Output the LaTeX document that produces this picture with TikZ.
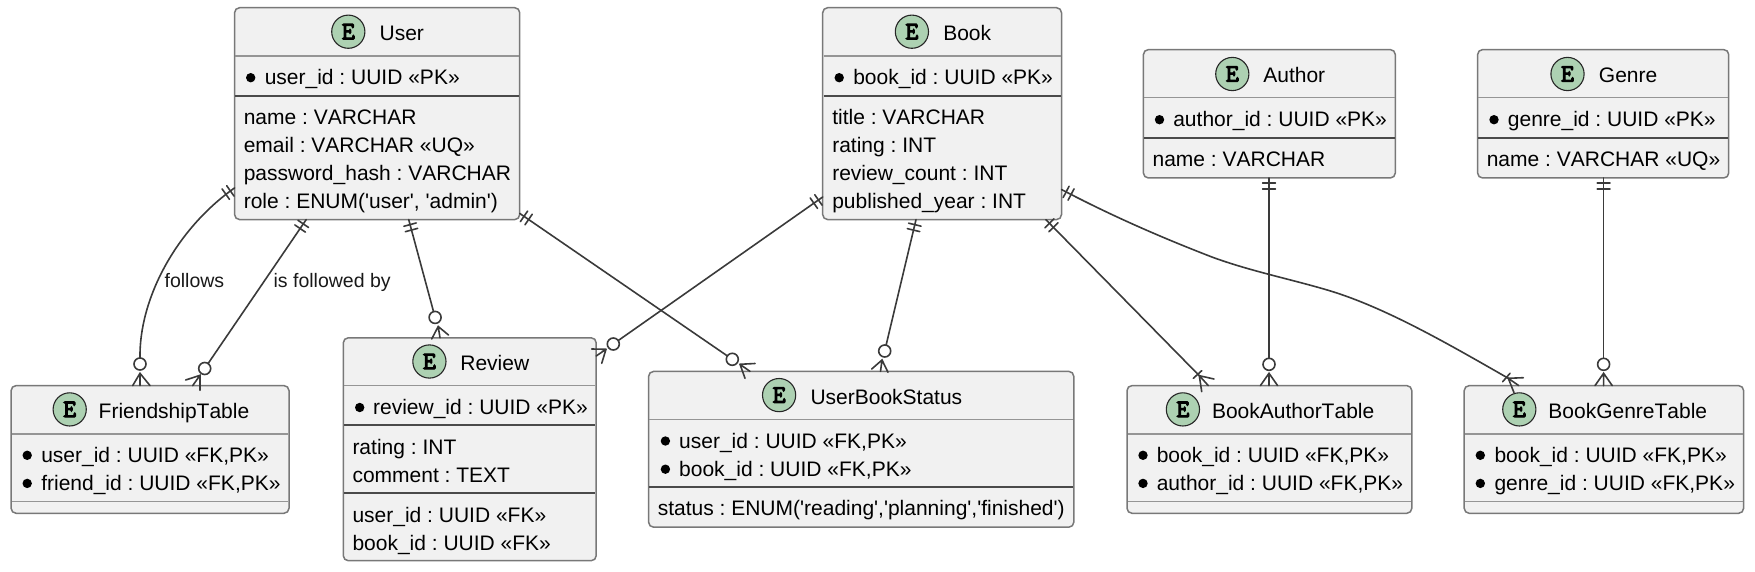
\documentclass[tikz,border=0pt]{standalone}
\usepackage{fontspec}
\setmainfont{Liberation Sans}[Ligatures=TeXOff,Kerning=Off]
\setmonofont{Latin Modern Mono}[FakeBold=4.5]
\usetikzlibrary{calc}
\definecolor{boxfill}{HTML}{F1F1F1}
\definecolor{boxline}{HTML}{787878}
\definecolor{hdrline}{HTML}{959595}
\definecolor{sepline}{HTML}{4A4A4A}
\definecolor{iconfill}{HTML}{ADD1B2}
\definecolor{connline}{HTML}{3A3A3A}
\tikzset{
  entbox/.style={draw=boxline,fill=boxfill,line width=0.75pt,rounded corners=2.5pt,anchor=north west,inner sep=0pt,outer sep=0pt},
  attr/.style={anchor=base west,inner sep=0pt,outer sep=0pt,font=\frenchspacing\fontsize{10.5}{12}\selectfont,text=black},
  lbl/.style={anchor=base west,inner sep=0pt,outer sep=0pt,font=\frenchspacing\fontsize{9.75}{12}\selectfont,text=black!90},
  bulletdot/.style={circle,fill=black,inner sep=0pt,minimum size=4.7pt},
  iconc/.style={circle,draw=black!85,fill=iconfill,line width=0.55pt,inner sep=0pt,minimum size=16.6pt,font=\ttfamily\fontsize{12.5}{12}\selectfont},
  hdr/.style={draw=hdrline,line width=0.7pt},
  sep/.style={draw=sepline,line width=1pt},
  conn/.style={draw=connline,line width=0.8pt,line cap=round},
  zero/.style={circle,draw=connline,fill=white,line width=0.8pt,inner sep=0pt,minimum size=6pt,outer sep=0pt},
}
% box name, x1, y1, x2, y2
\newcommand{\ent}[5]{\node[entbox,minimum width={(#4-#2)*0.5pt},minimum height={(#5-#3)*0.5pt}] (#1) at (#2,#3) {};}
\newcommand{\hdrln}[2]{\draw[hdr] ([xshift=.4pt]#1.west |- 0,#2) -- ([xshift=-.4pt]#1.east |- 0,#2);}
\newcommand{\sepln}[2]{\draw[sep] ([xshift=.4pt]#1.west |- 0,#2) -- ([xshift=-.4pt]#1.east |- 0,#2);}
% name x centre-y text
\newcommand{\txt}[4]{\node[attr] (#1) at (#2,#3+7) {#4};}
\newcommand{\ttl}[4]{\node[attr] (#1) at (#2,#3) {#4};}
\newcommand{\dotnode}[3]{\node[bulletdot] (#1) at (#2,#3) {};}
\newcommand{\ic}[3]{\node[iconc] (#1) at (#2,#3) {E};}
% double bar at #1 in the direction of #2
\newcommand{\bars}[2]{%
  \draw[conn] ($(#1)!2.6pt!(#2)!3.2pt!90:(#2)$) -- ($(#1)!2.6pt!(#2)!3.2pt!-90:(#2)$);
  \draw[conn] ($(#1)!5.4pt!(#2)!3.2pt!90:(#2)$) -- ($(#1)!5.4pt!(#2)!3.2pt!-90:(#2)$);}
% crow foot: tip, mid, foot a, foot b
\newcommand{\crow}[4]{\draw[conn] (#2) -- (#1) (#3) -- (#1) -- (#4);}
\begin{document}
\begin{tikzpicture}[x=0.5pt,y=-0.5pt]
\useasboundingbox (0,0) rectangle (1755,572);
% ---------- entities
\ent{User}{234.6}{7.7}{519.7}{219.6}
\hdrln{User}{56.2}\sepln{User}{95.6}
\ic{ui}{348.3}{31.7}\ttl{ut}{379.6}{41}{User}
\dotnode{ud}{250.7}{77.7}\txt{u0}{264.8}{77.7}{user\_id : UUID «PK»}
\txt{u1}{243.8}{117.5}{name : VARCHAR}
\txt{u2}{243.8}{145.5}{email : VARCHAR «UQ»}
\txt{u3}{243.8}{173.3}{password\_hash : VARCHAR}
\txt{u4}{243.8}{201.2}{role : ENUM('user', 'admin')}

\ent{Book}{822.7}{7.7}{1061.5}{219.6}
\hdrln{Book}{56.2}\sepln{Book}{95.6}
\ic{bi}{911.9}{31.7}\ttl{bt}{943.3}{41}{Book}
\dotnode{bd}{839.2}{77.7}\txt{b0}{853.3}{77.7}{book\_id : UUID «PK»}
\txt{b1}{832.3}{117.5}{title : VARCHAR}
\txt{b2}{832.3}{145.5}{rating : INT}
\txt{b3}{832.3}{173.3}{review\_count : INT}
\txt{b4}{832.3}{201.2}{published\_year : INT}

\ent{Author}{1143.4}{49.6}{1395.3}{178}
\hdrln{Author}{97.8}\sepln{Author}{137.9}
\ic{ai}{1232.3}{74}\ttl{at}{1263.3}{83}{Author}
\dotnode{ad}{1159.5}{119.7}\txt{a0}{1173.3}{119.7}{author\_id : UUID «PK»}
\txt{a1}{1152.6}{159.4}{name : VARCHAR}

\ent{Genre}{1477.6}{49.6}{1728.7}{178}
\hdrln{Genre}{97.8}\sepln{Genre}{137.9}
\ic{gi}{1567.5}{74}\ttl{gt}{1598.9}{83}{Genre}
\dotnode{gd}{1494}{119.7}\txt{g0}{1507.9}{119.7}{genre\_id : UUID «PK»}
\txt{g1}{1486.8}{159.4}{name : VARCHAR «UQ»}

\ent{Friend}{11.1}{385.6}{289}{513.3}
\hdrln{Friend}{433.8}\hdrln{Friend}{501.3}
\ic{fi}{69.7}{409.4}\ttl{ft}{98.7}{418.7}{FriendshipTable}
\dotnode{fd0}{27.2}{455.3}\txt{f0}{41.3}{455.3}{user\_id : UUID «FK,PK»}
\dotnode{fd1}{27.2}{483.4}\txt{f1}{41.3}{483.4}{friend\_id : UUID «FK,PK»}

\ent{Review}{343.3}{337.8}{596.2}{560.7}
\hdrln{Review}{385.3}\sepln{Review}{425.4}\sepln{Review}{493.2}
\ic{ri}{429.4}{361.5}\ttl{rt}{460.4}{370.5}{Review}
\dotnode{rd}{359.7}{407.5}\txt{r0}{373.1}{407.5}{review\_id : UUID «PK»}
\txt{r1}{352.5}{447.6}{rating : INT}
\txt{r2}{352.5}{475.4}{comment : TEXT}
\txt{r3}{352.5}{515}{user\_id : UUID «FK»}
\txt{r4}{352.5}{543.2}{book\_id : UUID «FK»}

\ent{Status}{648.6}{371.4}{1073.8}{527.2}
\hdrln{Status}{419.6}\sepln{Status}{487}
\ic{si}{779.1}{395.1}\ttl{st}{810.5}{404.5}{UserBookStatus}
\dotnode{sd0}{665.4}{441}\txt{s0}{679.2}{441}{user\_id : UUID «FK,PK»}
\dotnode{sd1}{665.4}{469.2}\txt{s1}{679.2}{469.2}{book\_id : UUID «FK,PK»}
\txt{s2}{657.8}{508.6}{status : ENUM('reading','planning','finished')}

\ent{BAT}{1127}{385.6}{1411.8}{513.3}
\hdrln{BAT}{433.8}\hdrln{BAT}{501.3}
\ic{ci}{1182.9}{409.4}\ttl{ct}{1212}{418.7}{BookAuthorTable}
\dotnode{cd0}{1143}{455.3}\txt{c0}{1156.8}{455.3}{book\_id : UUID «FK,PK»}
\dotnode{cd1}{1143}{483.4}\txt{c1}{1156.8}{483.4}{author\_id : UUID «FK,PK»}

\ent{BGT}{1464.2}{385.6}{1743.6}{513.3}
\hdrln{BGT}{433.8}\hdrln{BGT}{501.3}
\ic{hi}{1519.3}{409.4}\ttl{ht}{1548.4}{418.7}{BookGenreTable}
\dotnode{hd0}{1480.3}{455.3}\txt{h0}{1494.5}{455.3}{book\_id : UUID «FK,PK»}
\dotnode{hd1}{1480.3}{483.4}\txt{h1}{1494.5}{483.4}{genre\_id : UUID «FK,PK»}

% ---------- zero circles
\node[zero] (z1) at (140,364) {};
\node[zero] (z2) at (204.7,368.5) {};
\node[zero] (z3) at (435.1,317.4) {};
\node[zero] (z4) at (732.3,359.3) {};
\node[zero] (z5) at (613.3,344) {};
\node[zero] (z6) at (884.7,351) {};
\node[zero] (z7) at (1269,364.3) {};
\node[zero] (z8) at (1603.6,364.3) {};

% ---------- connector anchors
\coordinate (a1) at (User.west |- 0,187.9);
\coordinate (a1c) at (175,230);
\coordinate (a2) at (306.2,0 |- User.south);
\coordinate (a3) at (408.7,0 |- User.south);
\coordinate (a4) at (User.east |- 0,213.4);
\coordinate (a5) at (Book.west |- 0,197);
\coordinate (a6) at (916,0 |- Book.south);
\coordinate (a7) at (1045.8,0 |- Book.south);
\coordinate (a8) at (Book.east |- 0,189.5);
\coordinate (a8c) at (1110,215);
\coordinate (a9) at (1269,0 |- Author.south);
\coordinate (a10) at (1603.6,0 |- Genre.south);

% ---------- connectors
\draw[conn] (a1) .. controls (a1c) and (139,300) .. (z1.north);
\bars{a1}{a1c}
\crow{140,373.3}{140,0 |- Friend.north}{132.7,385.6}{150,385.6}

\draw[conn] (a2) -- (z2);
\bars{a2}{z2}
\crow{200,375.3}{192.7,0 |- Friend.north}{185.7,380}{200,390.4}

\draw[conn] (a3) -- (z3);
\bars{a3}{z3}
\crow{438.2,326.5}{440,0 |- Review.north}{431.7,339}{448.5,335}

\draw[conn] (a4) -- (z4);
\bars{a4}{z4}
\crow{740,364.3}{750,0 |- Status.north}{755,363.5}{745,378.3}

\draw[conn] (a5) -- (z5);
\bars{a5}{z5}
\crow{606,349.3}{Review.east |- 0,356}{591.7,349}{601.7,363.3}

\draw[conn] (a6) -- (z6);
\bars{a6}{z6}
\crow{882,360}{880.5,0 |- Status.north}{871.7,369}{888,372.3}

\coordinate (tipc) at (1199.3,375.7);
\draw[conn] (a7) -- (tipc);
\bars{a7}{tipc}
\crow{tipc}{1208.3,0 |- BAT.north}{1214,379}{1201.7,391.7}
\draw[conn] (1193.3,378.3) -- (1201.7,370.7);

\coordinate (tipd) at (1508.3,378.3);
\draw[conn] (a8) .. controls (a8c) and (1160,237) .. (1212.4,257.2)
  .. controls (1250,271) and (1290,279) .. (1327.2,290)
  .. controls (1385,307) and (1450,345) .. (tipd);
\bars{a8}{a8c}
\crow{tipd}{1518.7,0 |- BGT.north}{1523.3,377.7}{1514,392.7}
\draw[conn] (1502.7,381.7) -- (1510,373.3);

\draw[conn] (a9) -- (z7);
\bars{a9}{z7}
\crow{1269,373.3}{1269,0 |- BAT.north}{1260.4,385.6}{1277.6,385.6}

\draw[conn] (a10) -- (z8);
\bars{a10}{z8}
\crow{1603.6,373.3}{1603.6,0 |- BGT.north}{1595,385.6}{1612.2,385.6}

% ---------- labels
\node[lbl] (l1) at (164.6,287) {follows};
\node[lbl] (l2) at (273.6,287) {is followed by};
\end{tikzpicture}
\end{document}
